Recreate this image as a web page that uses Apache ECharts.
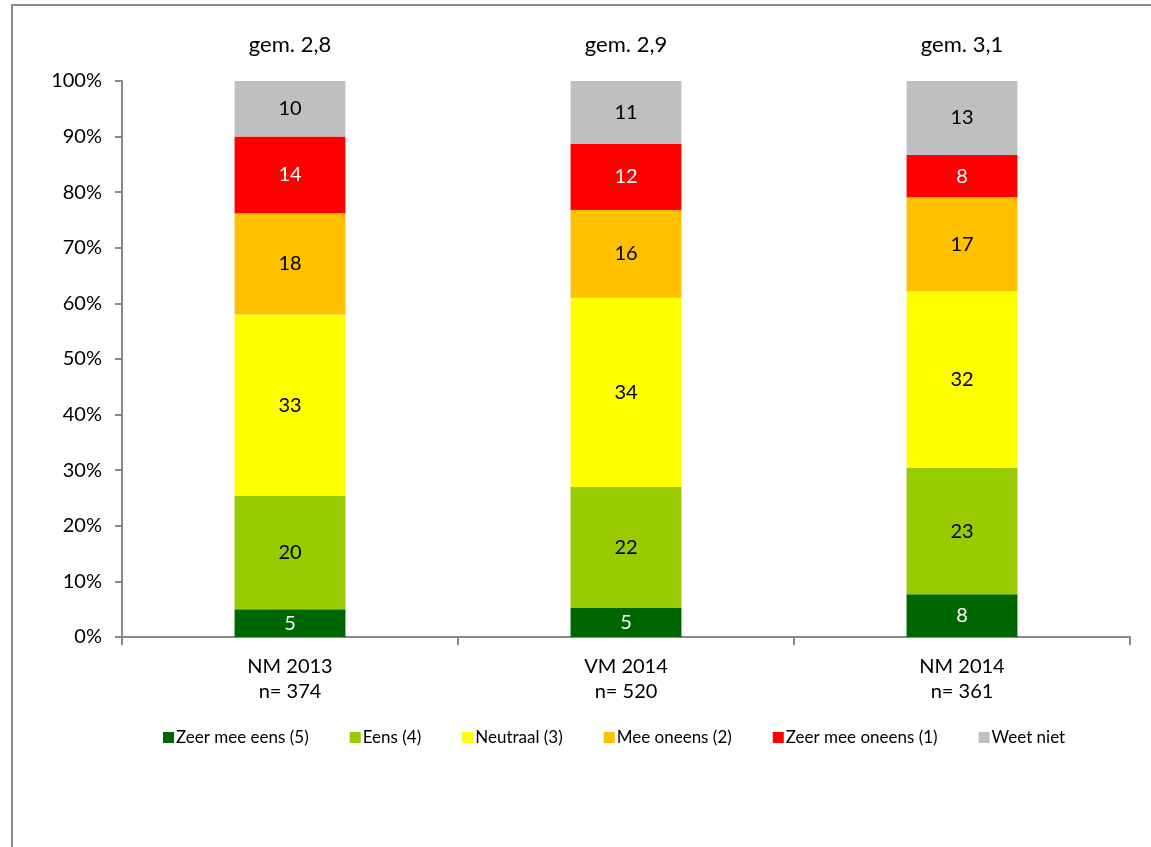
<!DOCTYPE html>
<html><head><meta charset="utf-8">
<script src="https://cdn.jsdelivr.net/npm/echarts@6/dist/echarts.min.js"></script>
<style>
html,body{margin:0;padding:0;background:#fff;overflow:hidden}
#frame{position:absolute;left:11px;top:4px;width:1160px;height:900px;border:2px solid #8c8c8c;box-sizing:border-box}
#c{position:absolute;left:0;top:0;width:1151px;height:847px}
</style></head>
<body>
<div id="frame"></div>
<div id="c"></div>
<script>
const categories = ['NM 2013\nn= 374', 'VM 2014\nn= 520', 'NM 2014\nn= 361'];
const averages = ['gem. 2,8', 'gem. 2,9', 'gem. 3,1'];
const seriesNames = ['Zeer mee eens (5)', 'Eens (4)', 'Neutraal (3)', 'Mee oneens (2)', 'Zeer mee oneens (1)', 'Weet niet'];
const zeerMeeEens = [5.0, 5.2, 7.7];
const eens = [20.4, 21.8, 22.7];
const neutraal = [32.6, 34.0, 31.8];
const meeOneens = [18.2, 15.8, 16.9];
const zeerMeeOneens = [13.8, 11.9, 7.6];
const weetNiet = [10.0, 11.3, 13.3];
const yTicks = [0, 10, 20, 30, 40, 50, 60, 70, 80, 90, 100];

const values = [zeerMeeEens, eens, neutraal, meeOneens, zeerMeeOneens, weetNiet];
const colors = ['#006600', '#99cc00', '#ffff00', '#ffc000', '#ff0000', '#bfbfbf'];
const labelColors = ['#ffffff', '#000000', '#000000', '#000000', '#ffffff', '#000000'];
const font = 'Lato, "Liberation Sans", sans-serif';

const chart = echarts.init(document.getElementById('c'));
chart.setOption({
  animation: false,
  textStyle: { fontFamily: font },
  grid: { left: 122, right: 21, top: 81, bottom: 210 },
  legend: {
    bottom: 96, left: 158,
    itemWidth: 11, itemHeight: 11, itemGap: 41,
    icon: 'rect',
    textStyle: { fontSize: 17, color: '#000', fontFamily: font, padding: [0, 0, 0, -3] },
    data: seriesNames
  },
  xAxis: [{
    type: 'category', data: categories,
    axisLine: { lineStyle: { color: '#888', width: 2 } },
    axisTick: { show: true, length: 8, lineStyle: { color: '#888', width: 2 } },
    axisLabel: { color: '#000', fontSize: 20, lineHeight: 25, margin: 17, fontFamily: font }
  }, {
    type: 'category', data: averages, position: 'top',
    axisLine: { show: false }, axisTick: { show: false },
    axisLabel: { color: '#000', fontSize: 22, margin: 25, fontFamily: font }
  }],
  yAxis: {
    type: 'value', min: 0, max: 100, interval: 10,
    splitLine: { show: false },
    axisLine: { show: true, lineStyle: { color: '#888', width: 2 } },
    axisTick: { show: true, length: 7, lineStyle: { color: '#888', width: 2 } },
    axisLabel: {
      color: '#000', fontSize: 20, margin: 20, fontFamily: font,
      formatter: v => yTicks.includes(v) ? v + '%' : ''
    }
  },
  series: seriesNames.map((name, i) => ({
    name, type: 'bar', stack: 'total', barWidth: '33%',
    itemStyle: { color: colors[i] },
    label: {
      show: true, position: 'inside', color: labelColors[i], fontSize: 20, fontFamily: font,
      formatter: p => Math.round(p.value)
    },
    data: values[i]
  }))
});
</script>
</body></html>
